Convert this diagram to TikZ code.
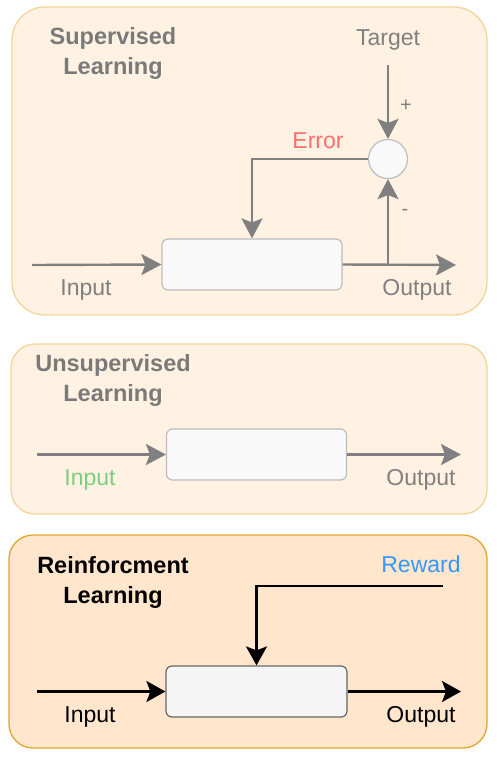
\documentclass[tikz,border=0pt]{standalone}
\usepackage{fontspec}
\setmainfont{Liberation Sans}
\usetikzlibrary{arrows.meta}
\definecolor{panelfill}{HTML}{FFF2E3}
\definecolor{panelstroke}{HTML}{F2D59A}
\definecolor{rlfill}{HTML}{FFE6CC}
\definecolor{rlstroke}{HTML}{E0A630}
\definecolor{txtgray}{HTML}{808080}
\definecolor{titlegray}{HTML}{7A7A7A}
\definecolor{boxfill}{HTML}{F9F9F9}
\definecolor{boxstroke}{HTML}{BDBDBD}
\definecolor{errred}{HTML}{FF6F6F}
\definecolor{ingreen}{HTML}{7FCC7F}
\definecolor{rewblue}{HTML}{3399FF}
\tikzset{
  lbl/.style={inner sep=0pt, font=\fontsize{23}{26}\selectfont},
  ttl/.style={inner sep=0pt, align=center, font=\fontsize{23.5}{30}\selectfont\bfseries},
  sgn/.style={inner sep=0pt, font=\fontsize{20}{22}\selectfont, text=txtgray},
  pbox/.style={draw=boxstroke, fill=boxfill, line width=1.2pt, rounded corners=6pt, minimum width=180pt, minimum height=51pt, inner sep=0pt},
  garrow/.style={draw=txtgray, line width=2.4pt, -{Stealth[length=20pt,width=21pt,inset=4pt]}},
  barrow/.style={draw=black, line width=2.4pt, -{Stealth[length=19pt,width=21pt,inset=4pt]}},
}
\begin{document}
\begin{tikzpicture}[x=1pt,y=-1pt]
\useasboundingbox (0,0) rectangle (496,769);
% panels
\draw[draw=panelstroke, fill=panelfill, line width=1.3pt, rounded corners=33pt] (12,7) rectangle (487,315);
\draw[draw=panelstroke, fill=panelfill, line width=1.3pt, rounded corners=24pt] (11,344) rectangle (487,514);
\draw[draw=rlstroke, fill=rlfill, line width=1.3pt, rounded corners=24pt] (9,535) rectangle (487,748);

% ---- Supervised
\node[ttl, text=titlegray] (t1) at (113,53) {Supervised\\Learning};
\node[pbox] (box1) at (252,264.5) {};
\node[draw=boxstroke, fill=boxfill, line width=1.2pt, circle, minimum size=39pt, inner sep=0pt] (sum1) at (388,159) {};
\node[lbl, text=txtgray] (tgt) at (388,40) {Target};
\coordinate (tgtc) at (388,65);
\node[lbl, text=errred] (err) at (318,141) {Error};
\node[sgn] (plus) at (406,106) {+};
\node[sgn] (minus) at (405,212) {-};
\coordinate (in1) at (32,265);
\coordinate (out1) at (456,265);
\node[lbl, text=txtgray] (in1l) at (86,290) {Input};
\node[lbl, text=txtgray] (out1l) at (417,290) {Output};
\draw[garrow] (in1) -- (box1.west);
\draw[garrow] (box1.east) -- (out1);
\draw[garrow] (box1.east -| sum1) -- (sum1.south);
\draw[garrow] (tgtc) -- (sum1.north);
\draw[garrow] (sum1.west) -| (box1.north);

% ---- Unsupervised
\node[ttl, text=titlegray] (t2) at (113,380) {Unsupervised\\Learning};
\node[pbox] (box2) at (256.5,454.5) {};
\coordinate (in2) at (37,454.5);
\coordinate (out2) at (461,454.5);
\node[lbl, text=ingreen] (in2l) at (90,480) {Input};
\node[lbl, text=txtgray] (out2l) at (421,480) {Output};
\draw[garrow] (in2) -- (box2.west);
\draw[garrow] (box2.east) -- (out2);

% ---- Reinforcement
\node[ttl, text=black] (t3) at (113,582) {Reinforcment\\Learning};
\node[draw=black!60, fill=black!4, line width=1.2pt, rounded corners=6pt, minimum width=181pt, minimum height=51pt, inner sep=0pt] (box3) at (256.5,691.5) {};
\node[lbl, text=rewblue] (rew) at (421,564) {Reward};
\coordinate (rewc) at (443,586);
\coordinate (in3) at (37,691.5);
\coordinate (out3) at (461,691.5);
\node[lbl, text=black] (in3l) at (90,717) {Input};
\node[lbl, text=black] (out3l) at (421,717) {Output};
\draw[barrow] (in3) -- (box3.west);
\draw[barrow] (box3.east) -- (out3);
\draw[barrow] (rewc) -| (box3.north);
\end{tikzpicture}
\end{document}
